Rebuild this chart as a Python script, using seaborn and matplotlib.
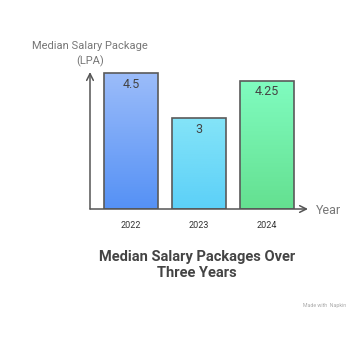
import numpy as np
import matplotlib
matplotlib.use("Agg")
import matplotlib.pyplot as plt
import seaborn as sns
import pandas as pd
from matplotlib.colors import LinearSegmentedColormap

years = ["2022", "2023", "2024"]
values = [4.5, 3.0, 4.25]
value_labels = ["4.5", "3", "4.25"]
top_colors = ["#9bbcfa", "#84e4f8", "#80fcc0"]
bottom_colors = ["#5591f5", "#5cd0f8", "#64e090"]

sns.set_theme(style="white")
plt.rcParams['font.family'] = ['Roboto', 'DejaVu Sans']

W, H = 364, 345
fig = plt.figure(figsize=(W / 100, H / 100), dpi=100)
fig.patch.set_facecolor("white")
ax = fig.add_axes([90 / W, (H - 209) / H, (308 - 90) / W, (209 - 72) / H])

df = pd.DataFrame({"Year": years, "Value": values})
sns.barplot(data=df, x="Year", y="Value", ax=ax, width=0.794,
            color="white", edgecolor="#5a5a5a", linewidth=1.2, zorder=3)

ax.set_xlim(-0.603, 2.603)
ax.set_ylim(0, 4.54)

for i, p in enumerate(ax.patches):
    x0, y0 = p.get_x(), p.get_y()
    w, h = p.get_width(), p.get_height()
    cmap = LinearSegmentedColormap.from_list("g", [bottom_colors[i], top_colors[i]])
    grad = np.linspace(0, 1, 256).reshape(-1, 1)
    im = ax.imshow(grad, cmap=cmap, aspect="auto", origin="lower",
                   extent=[x0, x0 + w, y0, y0 + h], zorder=2)
    im.set_clip_path(p)
    p.set_facecolor("none")
    ax.text(x0 + w / 2, h - 0.36, value_labels[i], ha="center", va="center",
            fontsize=9, color="#444444", zorder=4)

ax.set_aspect("auto")
ax.set_xlim(-0.603, 2.603)
ax.set_ylim(0, 4.54)

for s in ax.spines.values():
    s.set_visible(False)
ax.set_yticks([])
ax.set_xlabel("")
ax.set_ylabel("")
ax.tick_params(axis="x", length=0, pad=9, labelsize=6.5, labelcolor="#333333")

# axis arrows
ax.annotate("", xy=(0, 1.0), xytext=(0, 0), xycoords="axes fraction",
            arrowprops=dict(arrowstyle="->", color="#555555", lw=1.1,
                            shrinkA=0, shrinkB=0), zorder=5)
ax.annotate("", xy=(1.0, 0), xytext=(0, 0), xycoords="axes fraction",
            arrowprops=dict(arrowstyle="->", color="#555555", lw=1.1,
                            shrinkA=0, shrinkB=0), zorder=5)

fig.text(316 / W, 1 - 210 / H, "Year", ha="left", va="center",
         fontsize=9, color="#777777")
fig.text(90 / W, 1 - 46 / H, "Median Salary Package", ha="center", va="center",
         fontsize=8, color="#777777")
fig.text(90 / W, 1 - 61 / H, "(LPA)", ha="center", va="center",
         fontsize=8, color="#777777")

fig.text(197 / W, 1 - 257 / H, "Median Salary Packages Over", ha="center",
         va="center", fontsize=10.5, fontweight="bold", color="#444444")
fig.text(197 / W, 1 - 273 / H, "Three Years", ha="center",
         va="center", fontsize=10.5, fontweight="bold", color="#444444")

fig.text(346 / W, 1 - 306 / H, "Made with  Napkin", ha="right", va="center",
         fontsize=3.8, color="#aaaaaa")

fig.savefig("out.png", dpi=100, facecolor="white")
